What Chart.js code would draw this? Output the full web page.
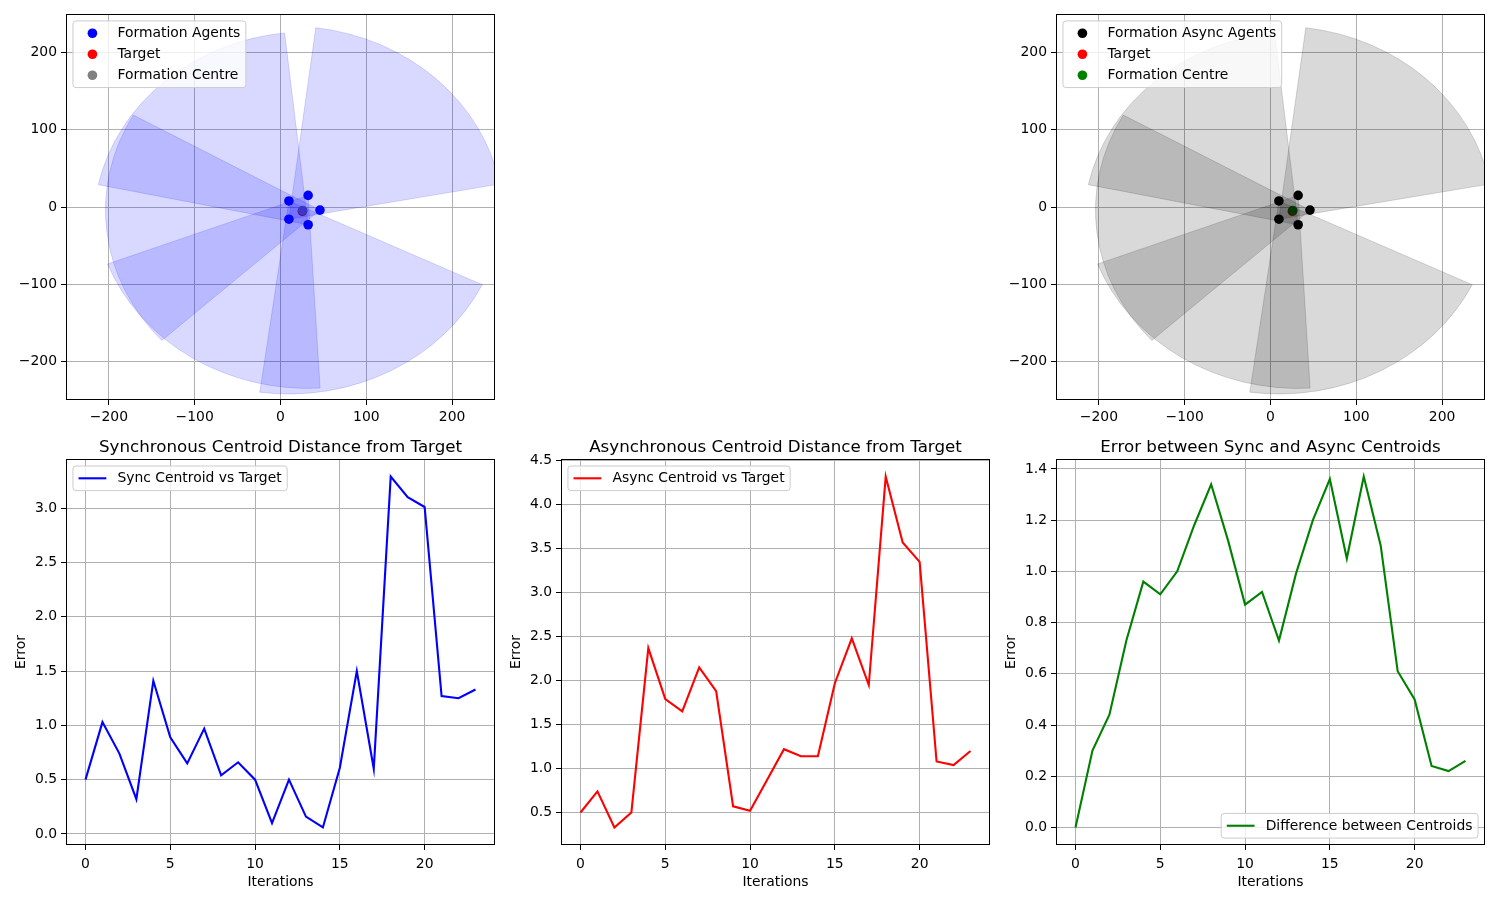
<!DOCTYPE html>
<html>
<head>
<meta charset="utf-8">
<script src="https://cdn.jsdelivr.net/npm/chart.js@4.4.0/dist/chart.umd.min.js"></script>
<style>
  html, body { margin: 0; padding: 0; background: #fff; }
  #fig { position: relative; width: 1500px; height: 902px; overflow: hidden; }
  #fig canvas { position: absolute; }
</style>
</head>
<body>
<div id="fig">
  <canvas id="formSync"></canvas>
  <canvas id="formAsync"></canvas>
  <canvas id="errSync"></canvas>
  <canvas id="errAsync"></canvas>
  <canvas id="errDiff"></canvas>
</div>
<script>
// final formation (agents on a pentagon round the centre)
const agentX = [46.0, 32.2, 9.8, 9.8, 32.2];
const agentY = [-4.0, 15.0, 7.8, -15.8, -23.0];
const targetPos = [25.5, -5.5];
const centrePos = [26.0, -4.5];

// one sensing wedge per agent (degrees)
const wedgeStart = [150.5, 200.8, 262.2, 10.5, 96.3];
const wedgeEnd = [222.5, 273.2, 334.3, 82.8, 168.0];
const sensingRange = 250;
const formTicks = [-200, -100, 0, 100, 200];

// error curves
const iterations = [0, 1, 2, 3, 4, 5, 6, 7, 8, 9, 10, 11, 12, 13, 14, 15, 16, 17, 18, 19, 20, 21, 22, 23];
const syncErr = [0.50, 1.03, 0.74, 0.32, 1.41, 0.89, 0.65, 0.97, 0.54, 0.66, 0.50, 0.10, 0.50, 0.16, 0.06, 0.61,
  1.50, 0.60, 3.29, 3.10, 3.01, 1.27, 1.25, 1.33];
const asyncErr = [0.50, 0.74, 0.33, 0.50, 2.37, 1.79, 1.65, 2.15, 1.88, 0.57, 0.52, 0.87, 1.22, 1.14, 1.14, 1.97,
  2.48, 1.95, 4.32, 3.57, 3.35, 1.08, 1.04, 1.20];
const diffErr = [0.00, 0.30, 0.44, 0.73, 0.96, 0.91, 1.00, 1.18, 1.34, 1.12, 0.87, 0.92, 0.73, 0.99, 1.20, 1.36,
  1.05, 1.37, 1.10, 0.61, 0.50, 0.24, 0.22, 0.26];
const iterTicks = [0, 5, 10, 15, 20];
const syncTicks = [0, 0.5, 1, 1.5, 2, 2.5, 3];
const asyncTicks = [0.5, 1, 1.5, 2, 2.5, 3, 3.5, 4, 4.5];
const diffTicks = [0, 0.2, 0.4, 0.6, 0.8, 1.0, 1.2, 1.4];

const FS = 13.9;   // 10pt
const TS = 16.7;   // 12pt
Chart.defaults.font.family = '"DejaVu Sans", sans-serif';
Chart.defaults.font.size = FS;
Chart.defaults.color = '#000';

function minus(v) {
  return v < 0 ? '\u2212' + (-v) : String(v);
}

function limits(vals) {
  const lo = Math.min(...vals), hi = Math.max(...vals);
  const m = (hi - lo) * 0.05;
  return [lo - m, hi + m];
}

function drawWedges(chart, w) {
  const { ctx, chartArea: a, scales: { x, y } } = chart;
  ctx.save();
  ctx.beginPath();
  ctx.rect(a.left, a.top, a.width, a.height);
  ctx.clip();
  ctx.fillStyle = w.color;
  ctx.strokeStyle = w.color;
  ctx.lineWidth = 1;
  for (let i = 0; i < wedgeStart.length; i++) {
    const cx = x.getPixelForValue(agentX[i]);
    const cy = y.getPixelForValue(agentY[i]);
    const rx = Math.abs(x.getPixelForValue(agentX[i] + sensingRange) - cx);
    const ry = Math.abs(y.getPixelForValue(agentY[i] + sensingRange) - cy);
    const t1 = wedgeStart[i] * Math.PI / 180, t2 = wedgeEnd[i] * Math.PI / 180;
    ctx.beginPath();
    ctx.moveTo(cx, cy);
    ctx.ellipse(cx, cy, rx, ry, 0, -t1, -t2, true);
    ctx.closePath();
    ctx.fill();
    ctx.stroke();
  }
  ctx.restore();
}

function drawLegend(chart, loc) {
  const { ctx, chartArea: a } = chart;
  const items = chart.data.datasets.filter(d => d.label);
  const pad = 0.4 * FS, hLen = 2 * FS, hPad = 0.8 * FS, rowH = 13.5, gap = 7.5, axPad = 0.5 * FS;
  ctx.save();
  ctx.font = FS + 'px "DejaVu Sans"';
  const tw = Math.max(...items.map(d => ctx.measureText(d.label).width));
  const w = pad * 2 + hLen + hPad + tw;
  const h = pad * 2 + items.length * rowH + (items.length - 1) * gap;
  const bx = loc === 'lr' ? a.right - axPad - w : a.left + axPad;
  const by = loc === 'lr' ? a.bottom - axPad - h : a.top + axPad;
  ctx.beginPath();
  ctx.roundRect(bx, by, w, h, 3);
  ctx.fillStyle = 'rgba(255,255,255,0.8)';
  ctx.fill();
  ctx.strokeStyle = '#cccccc';
  ctx.lineWidth = 1;
  ctx.stroke();
  items.forEach((d, i) => {
    const cy = by + pad + rowH / 2 + i * (rowH + gap);
    const hx = bx + pad;
    if (d.showLine) {
      ctx.beginPath();
      ctx.moveTo(hx, cy);
      ctx.lineTo(hx + hLen, cy);
      ctx.strokeStyle = d.borderColor;
      ctx.lineWidth = 2.1;
      ctx.stroke();
    } else {
      ctx.beginPath();
      ctx.arc(hx + hLen / 2, cy, 4.8, 0, Math.PI * 2);
      ctx.fillStyle = d.backgroundColor;
      ctx.fill();
    }
    ctx.fillStyle = '#000';
    ctx.textBaseline = 'middle';
    ctx.textAlign = 'left';
    ctx.fillText(d.label, hx + hLen + hPad, cy + 0.5);
  });
  ctx.restore();
}

const decor = {
  id: 'decor',
  afterDatasetsDraw(chart, args, opts) {
    if (opts.wedgeColor) drawWedges(chart, { color: opts.wedgeColor });
    const a = chart.chartArea, ctx = chart.ctx;
    ctx.save();
    ctx.strokeStyle = '#000';
    ctx.lineWidth = 1;
    ctx.strokeRect(Math.round(a.left) + 0.5, Math.round(a.top) + 0.5,
      Math.round(a.width) - 1, Math.round(a.height) - 1);
    ctx.restore();
  },
  afterDraw(chart, args, opts) {
    drawLegend(chart, opts.legendLoc);
  }
};

function axis(min, max, tickVals, fmt, fit, pad, title) {
  return {
    type: 'linear', min, max,
    afterBuildTicks: s => { s.ticks = tickVals.map(v => ({ value: v })); },
    afterFit: fit,
    grid: { color: '#b0b0b0', lineWidth: 1, tickColor: '#000', tickLength: 5, drawTicks: true },
    border: { display: false },
    ticks: { color: '#000', padding: pad, autoSkip: false, maxRotation: 0, callback: fmt },
    title: title || { display: false }
  };
}

function place(id, left, top, w, h) {
  const c = document.getElementById(id);
  c.width = w; c.height = h;
  c.style.left = left + 'px';
  c.style.top = top + 'px';
  return c;
}

function formationChart(id, left, agentLabel, agentColor, centreColor, wedgeColor) {
  const c = place(id, left, 0, 505, 432);
  return new Chart(c, {
    type: 'scatter',
    data: {
      datasets: [
        { label: agentLabel, data: agentX.map((v, i) => ({ x: v, y: agentY[i] })),
          backgroundColor: agentColor, borderWidth: 0, pointRadius: 4.8, order: 0 },
        { label: 'Target', data: [{ x: targetPos[0], y: targetPos[1] }],
          backgroundColor: 'red', borderWidth: 0, pointRadius: 4.8, order: 2 },
        { label: 'Formation Centre', data: [{ x: centrePos[0], y: centrePos[1] }],
          backgroundColor: centreColor, borderWidth: 0, pointRadius: 4.8, order: 1 }
      ]
    },
    options: {
      responsive: false, animation: false,
      layout: { padding: { left: 0, right: 10, top: 14, bottom: 0 } },
      scales: {
        x: axis(-250, 250, formTicks, minus, s => { s.height = 32; }, 4),
        y: axis(-250, 250, formTicks, minus, s => { s.width = 66; }, 4)
      },
      plugins: {
        legend: { display: false }, tooltip: { enabled: false },
        decor: { wedgeColor, legendLoc: 'ul' }
      }
    },
    plugins: [decor]
  });
}

function errorChart(id, left, titleText, label, color, vals, ticks, legendLoc) {
  const c = place(id, left, 425, 505, 477);
  const [lo, hi] = limits(vals);
  const [xlo, xhi] = limits(iterations);
  return new Chart(c, {
    type: 'line',
    data: {
      datasets: [{
        label, data: iterations.map((it, i) => ({ x: it, y: vals[i] })),
        borderColor: color, backgroundColor: color, borderWidth: 2.1,
        pointRadius: 0, tension: 0, showLine: true, fill: false
      }]
    },
    options: {
      responsive: false, animation: false,
      layout: { padding: { left: 0, right: 10, top: 0, bottom: 0 } },
      scales: {
        x: axis(xlo, xhi, iterTicks, v => String(v), s => { s.height = 57; }, 6,
          { display: true, text: 'Iterations', color: '#000', font: { size: FS }, padding: { top: 0, bottom: 11.5 } }),
        y: axis(lo, hi, ticks, v => v.toFixed(1), s => { s.width = 66; }, 4,
          { display: true, text: 'Error', color: '#000', font: { size: FS }, padding: { top: 13.2, bottom: 0 } })
      },
      plugins: {
        legend: { display: false }, tooltip: { enabled: false },
        title: { display: true, text: titleText, color: '#000', fullSize: false,
          font: { size: TS, weight: 'normal' }, padding: { top: 13, bottom: 1 } },
        decor: { legendLoc }
      }
    },
    plugins: [decor]
  });
}

formationChart('formSync', 0, 'Formation Agents', 'blue', 'gray', 'rgba(0,0,255,0.15)');
formationChart('formAsync', 990, 'Formation Async Agents', 'black', 'green', 'rgba(0,0,0,0.15)');

errorChart('errSync', 0, 'Synchronous Centroid Distance from Target', 'Sync Centroid vs Target',
  'blue', syncErr, syncTicks, 'ul');
errorChart('errAsync', 495, 'Asynchronous Centroid Distance from Target', 'Async Centroid vs Target',
  'red', asyncErr, asyncTicks, 'ul');
errorChart('errDiff', 990, 'Error between Sync and Async Centroids', 'Difference between Centroids',
  'green', diffErr, diffTicks, 'lr');
</script>
</body>
</html>
